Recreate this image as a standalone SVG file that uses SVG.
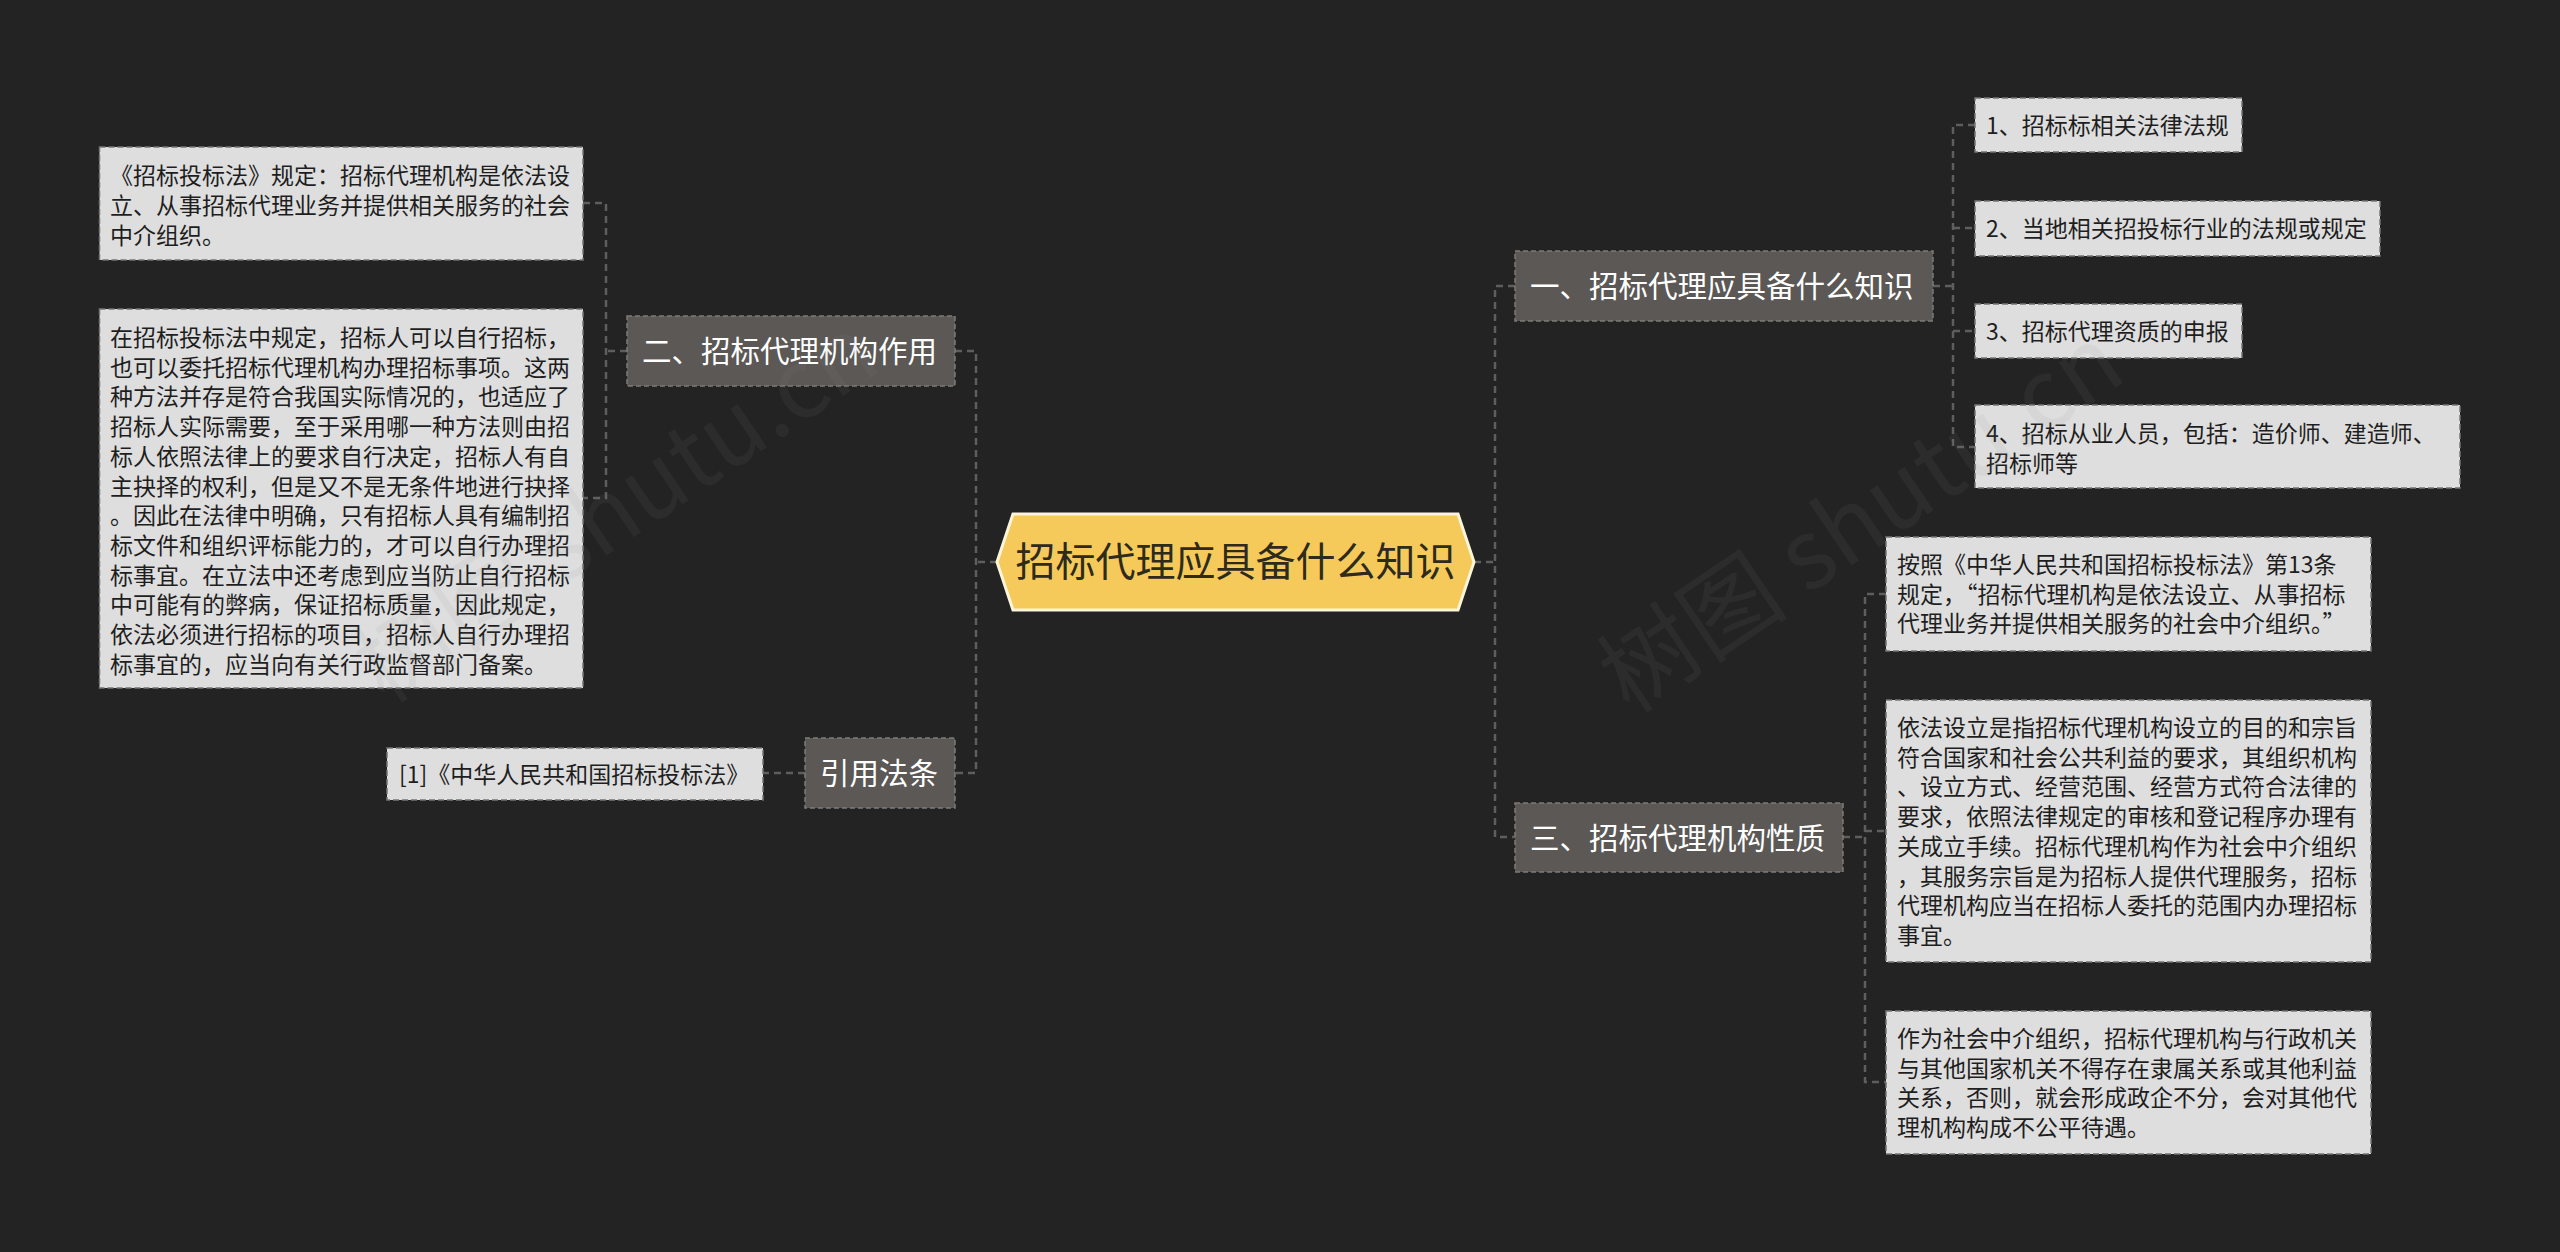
<svg xmlns="http://www.w3.org/2000/svg" width="2560" height="1252" viewBox="0 0 2560 1252">
<style>
text{font-family:"Noto Sans CJK SC","Noto Sans",sans-serif}
.ct{fill:#2e2a1c;font-size:40px}
.l1r{fill:#5b5855;stroke:#7e7b77;stroke-width:1.5;stroke-dasharray:5 3}
.l1t{fill:#ffffff;font-size:29.5px}
.lr{fill:#dedede;stroke:#767676;stroke-width:1.5;stroke-dasharray:6 3}
.lt{fill:#1e1e1e;font-size:23px}
.conn{fill:none;stroke:#5e5e5e;stroke-width:2.5;stroke-dasharray:7 5}
.wm{fill:#8a8a8a;opacity:0.09;font-size:96px;font-family:"Noto Sans CJK SC","Liberation Sans",sans-serif}
</style>
<rect width="2560" height="1252" fill="#232323"/>

<g id="connectors">
<path class="conn" d="M997,562 H976 M955,351 H976 V773 H955"/>
<path class="conn" d="M627,351 H606 M583,203 H606 V498 H583"/>
<path class="conn" d="M805,773 H763"/>
<path class="conn" d="M1474,562 H1495 M1515,286 H1495 V837 H1515"/>
<path class="conn" d="M1933,286 H1953 M1975,125 H1953 V447 H1975 M1953,228 H1975 M1953,331 H1975"/>
<path class="conn" d="M1843,837 H1865 M1886,594 H1865 V1082 H1886 M1865,831 H1886"/>
</g>

<g id="center">
<polygon points="997,562 1013,514 1458,514 1474,562 1458,610 1013,610" fill="#f5ca5a" stroke="#fcf5dc" stroke-width="3"/>
<text class="ct" x="1235.5" y="576" text-anchor="middle">招标代理应具备什么知识</text>
</g>

<g id="n2">
<rect class="l1r" x="627" y="316" width="328" height="70"/>
<text class="l1t" x="642" y="362">二、招标代理机构作用</text>
</g>
<g id="n2a">
<rect class="lr" x="99.5" y="147" width="483.5" height="113"/>
<text class="lt" x="110" y="184">《招标投标法》规定：招标代理机构是依法设</text>
<text class="lt" x="110" y="214">立、从事招标代理业务并提供相关服务的社会</text>
<text class="lt" x="110" y="244">中介组织。</text>
</g>
<g id="n2b">
<rect class="lr" x="99.5" y="309" width="483.5" height="379"/>
<text class="lt" x="110" y="346">在招标投标法中规定，招标人可以自行招标，</text>
<text class="lt" x="110" y="375.7">也可以委托招标代理机构办理招标事项。这两</text>
<text class="lt" x="110" y="405.4">种方法并存是符合我国实际情况的，也适应了</text>
<text class="lt" x="110" y="435.1">招标人实际需要，至于采用哪一种方法则由招</text>
<text class="lt" x="110" y="464.8">标人依照法律上的要求自行决定，招标人有自</text>
<text class="lt" x="110" y="494.5">主抉择的权利，但是又不是无条件地进行抉择</text>
<text class="lt" x="110" y="524.2">。因此在法律中明确，只有招标人具有编制招</text>
<text class="lt" x="110" y="553.9">标文件和组织评标能力的，才可以自行办理招</text>
<text class="lt" x="110" y="583.6">标事宜。在立法中还考虑到应当防止自行招标</text>
<text class="lt" x="110" y="613.3">中可能有的弊病，保证招标质量，因此规定，</text>
<text class="lt" x="110" y="643">依法必须进行招标的项目，招标人自行办理招</text>
<text class="lt" x="110" y="672.7">标事宜的，应当向有关行政监督部门备案。</text>
</g>

<g id="n4">
<rect class="l1r" x="805" y="738" width="150" height="70"/>
<text class="l1t" x="820" y="784">引用法条</text>
</g>
<g id="n4a">
<rect class="lr" x="387" y="748" width="376" height="52"/>
<text class="lt" x="399" y="783">[1]《中华人民共和国招标投标法》</text>
</g>

<g id="n1">
<rect class="l1r" x="1515" y="251" width="418" height="70"/>
<text class="l1t" x="1530" y="297">一、招标代理应具备什么知识</text>
</g>
<g id="n1a">
<rect class="lr" x="1975" y="98" width="267" height="54"/>
<text class="lt" x="1986" y="134">1、招标标相关法律法规</text>
</g>
<g id="n1b">
<rect class="lr" x="1975" y="201" width="405" height="55"/>
<text class="lt" x="1986" y="237">2、当地相关招投标行业的法规或规定</text>
</g>
<g id="n1c">
<rect class="lr" x="1975" y="304" width="267" height="54"/>
<text class="lt" x="1986" y="340">3、招标代理资质的申报</text>
</g>
<g id="n1d">
<rect class="lr" x="1975" y="405" width="485" height="83"/>
<text class="lt" x="1986" y="442">4、招标从业人员，包括：造价师、建造师、</text>
<text class="lt" x="1986" y="472">招标师等</text>
</g>

<g id="n3">
<rect class="l1r" x="1515" y="803" width="328" height="69"/>
<text class="l1t" x="1530" y="848.5">三、招标代理机构性质</text>
</g>
<g id="n3a">
<rect class="lr" x="1886" y="537" width="485" height="114"/>
<text class="lt" x="1897" y="573">按照《中华人民共和国招标投标法》第13条</text>
<text class="lt" x="1897" y="602.7">规定，“招标代理机构是依法设立、从事招标</text>
<text class="lt" x="1897" y="632.4">代理业务并提供相关服务的社会中介组织。”</text>
</g>
<g id="n3b">
<rect class="lr" x="1886" y="700" width="485" height="262"/>
<text class="lt" x="1897" y="736">依法设立是指招标代理机构设立的目的和宗旨</text>
<text class="lt" x="1897" y="765.7">符合国家和社会公共利益的要求，其组织机构</text>
<text class="lt" x="1897" y="795.4">、设立方式、经营范围、经营方式符合法律的</text>
<text class="lt" x="1897" y="825.1">要求，依照法律规定的审核和登记程序办理有</text>
<text class="lt" x="1897" y="854.8">关成立手续。招标代理机构作为社会中介组织</text>
<text class="lt" x="1897" y="884.5">，其服务宗旨是为招标人提供代理服务，招标</text>
<text class="lt" x="1897" y="914.2">代理机构应当在招标人委托的范围内办理招标</text>
<text class="lt" x="1897" y="943.9">事宜。</text>
</g>
<g id="n3c">
<rect class="lr" x="1886" y="1011" width="485" height="143"/>
<text class="lt" x="1897" y="1047">作为社会中介组织，招标代理机构与行政机关</text>
<text class="lt" x="1897" y="1076.7">与其他国家机关不得存在隶属关系或其他利益</text>
<text class="lt" x="1897" y="1106.4">关系，否则，就会形成政企不分，会对其他代</text>
<text class="lt" x="1897" y="1136.1">理机构构成不公平待遇。</text>
</g>

<g id="watermark">
<text class="wm" transform="translate(385,705) rotate(-34)">树图 shutu.cn</text>
<text class="wm" transform="translate(1630,715) rotate(-34)">树图 shutu.cn</text>
</g>
</svg>
